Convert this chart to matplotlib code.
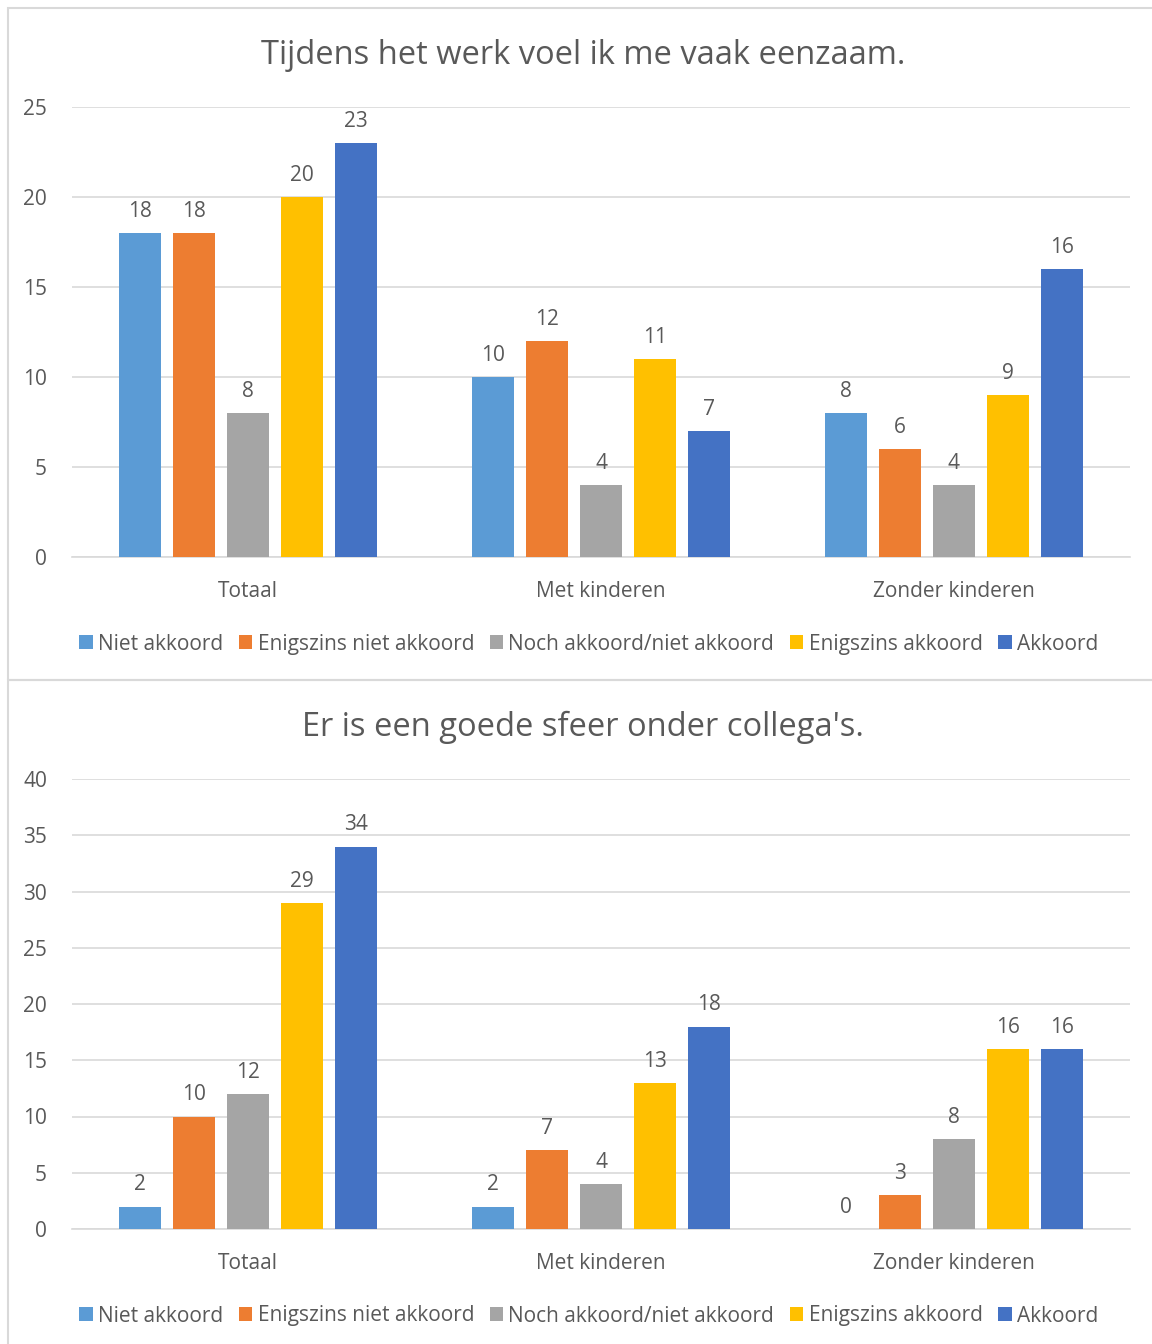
import numpy as np
import matplotlib.pyplot as plt
from matplotlib.patches import Rectangle

plt.rcParams['font.family'] = ['Open Sans', 'DejaVu Sans']

groups = ['Totaal', 'Met kinderen', 'Zonder kinderen']
series = ['Niet akkoord', 'Enigszins niet akkoord', 'Noch akkoord/niet akkoord',
          'Enigszins akkoord', 'Akkoord']
colors = ['#5B9BD5', '#ED7D31', '#A5A5A5', '#FFC000', '#4472C4']

title1 = 'Tijdens het werk voel ik me vaak eenzaam.'
vals1 = [
    [18, 10, 8],   # Niet akkoord
    [18, 12, 6],   # Enigszins niet akkoord
    [8, 4, 4],     # Noch akkoord/niet akkoord
    [20, 11, 9],   # Enigszins akkoord
    [23, 7, 16],   # Akkoord
]
ticks1 = [0, 5, 10, 15, 20, 25]

title2 = "Er is een goede sfeer onder collega's."
vals2 = [
    [2, 2, 0],
    [10, 7, 3],
    [12, 4, 8],
    [29, 13, 16],
    [34, 18, 16],
]
ticks2 = [0, 5, 10, 15, 20, 25, 30, 35, 40]

txt = '#595959'
grid = '#D9D9D9'

fig = plt.figure(figsize=(11.52, 13.44), dpi=100)

# panel borders
W, H = 1152, 1344
for (y0, y1) in [(8, 680), (680, 1350)]:
    fig.patches.append(Rectangle((8 / W, 1 - y1 / H), 1.2, (y1 - y0) / H,
                                 transform=fig.transFigure, fill=False,
                                 edgecolor=grid, linewidth=1.5))


def draw(ax, vals, ticks, title, title_y, leg_y):
    x = np.arange(len(groups))
    step = 0.153
    width = 0.119
    for i, (s, c) in enumerate(zip(series, colors)):
        pos = x + (i - 2) * step
        ax.bar(pos, vals[i], width=width, color=c, label=s, zorder=3)
        for px, v in zip(pos, vals[i]):
            ax.annotate(str(v), (px, v), xytext=(0, 8), textcoords='offset points',
                        ha='center', va='bottom', fontsize=15, color=txt)
    ax.set_xlim(-0.5, 2.5)
    ax.set_ylim(0, ticks[-1])
    ax.set_yticks(ticks)
    ax.set_xticks(x)
    ax.set_xticklabels(groups)
    ax.tick_params(axis='both', length=0, labelsize=15, colors=txt)
    ax.tick_params(axis='y', pad=18)
    ax.tick_params(axis='x', pad=17)
    ax.grid(axis='y', color=grid, linewidth=1.2, zorder=0)
    for sp in ['top', 'right', 'left']:
        ax.spines[sp].set_visible(False)
    ax.spines['bottom'].set_color(grid)
    ax.spines['bottom'].set_linewidth(1.2)
    fig.text(0.506, title_y, title, ha='center', va='center', fontsize=23.5, color=txt)
    leg = ax.legend(loc='center', bbox_to_anchor=(0.511, leg_y), bbox_transform=fig.transFigure,
                    ncol=5, frameon=False, fontsize=15, handlelength=0.65, handleheight=0.65,
                    handletextpad=0.25, columnspacing=0.75, labelcolor=txt)
    return leg


ax1 = fig.add_axes([72 / W, 1 - 557 / H, 1058 / W, 450 / H])
draw(ax1, vals1, ticks1, title1, 1 - 55 / H, 1 - 644 / H)

ax2 = fig.add_axes([72 / W, 1 - 1229 / H, 1058 / W, 450 / H])
draw(ax2, vals2, ticks2, title2, 1 - 727 / H, 1 - 1316 / H)

fig.savefig('out.png', dpi=100)
